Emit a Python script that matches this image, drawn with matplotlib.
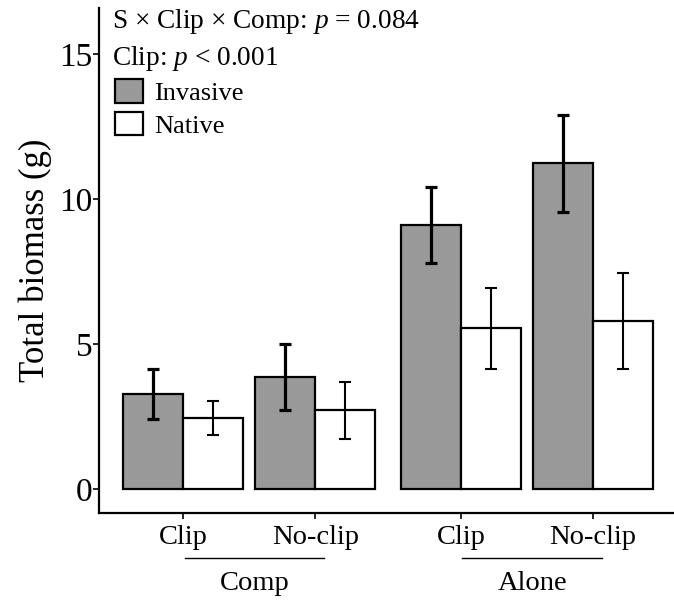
import matplotlib.pyplot as plt
import numpy as np

# data
groups = ["Comp", "Alone"]
clip_labels = ["Clip", "No-clip", "Clip", "No-clip"]
invasive_mean = [3.28, 3.86, 9.10, 11.24]
invasive_se = [0.86, 1.14, 1.31, 1.67]
native_mean = [2.45, 2.72, 5.55, 5.79]
native_se = [0.60, 0.98, 1.40, 1.65]

plt.rcParams['font.family'] = ['Liberation Serif', 'DejaVu Serif']
plt.rcParams['mathtext.fontset'] = 'custom'
plt.rcParams['mathtext.rm'] = 'Liberation Serif'
plt.rcParams['mathtext.it'] = 'Liberation Serif:italic'

fig = plt.figure(figsize=(6.74, 6.0), dpi=100)
ax = fig.add_axes([0.147, 0.145, 0.853, 0.842])

xpos = np.array([0.0, 0.88, 1.85, 2.73])
w = 0.4

ax.bar(xpos - w / 2, invasive_mean, w, color="#999999", edgecolor="black",
       linewidth=1.6, label="Invasive", zorder=2)
ax.bar(xpos + w / 2, native_mean, w, color="white", edgecolor="black",
       linewidth=1.6, label="Native", zorder=2)
ax.errorbar(xpos - w / 2, invasive_mean, yerr=invasive_se, fmt="none",
            ecolor="black", elinewidth=2.3, capsize=4.5, capthick=2.3, zorder=3)
ax.errorbar(xpos + w / 2, native_mean, yerr=native_se, fmt="none",
            ecolor="black", elinewidth=1.5, capsize=4.5, capthick=1.5, zorder=3)

ax.set_xlim(-0.56, 3.27)
ax.set_ylim(-0.83, 16.6)
ax.set_yticks([0, 5, 10, 15])
ax.set_xticks(xpos)
ax.set_xticklabels(clip_labels, fontsize=20.5)
ax.tick_params(axis="y", labelsize=24, length=4, width=1.2, pad=1)
ax.tick_params(axis="x", length=4, width=1.2, pad=5)
ax.set_ylabel("Total biomass (g)", fontsize=25, labelpad=5)

for s in ["top", "right"]:
    ax.spines[s].set_visible(False)
for s in ["left", "bottom"]:
    ax.spines[s].set_linewidth(1.6)

# group labels with underline
for i, g in enumerate(groups):
    x0 = xpos[2 * i] + 0.01
    x1 = xpos[2 * i + 1] + 0.06
    ax.plot([x0, x1], [-2.38, -2.38], color="black", lw=1.0, clip_on=False)
    ax.text((x0 + x1) / 2, -3.25, g, ha="center", va="center", fontsize=20.5)

ax.text(-0.473, 15.9, r"S × Clip × Comp: $\mathit{p}$ = 0.084", fontsize=19.7,
        ha="left", va="baseline")
ax.text(-0.473, 14.62, r"Clip: $\mathit{p}$ < 0.001", fontsize=19.7,
        ha="left", va="baseline")

leg = ax.legend(loc="upper left", bbox_to_anchor=(-0.005, 0.895), frameon=False,
                fontsize=19, handlelength=1.06, handleheight=1.0,
                handletextpad=0.45, labelspacing=0.25, borderaxespad=0.3)

fig.savefig("out.png", dpi=100)
